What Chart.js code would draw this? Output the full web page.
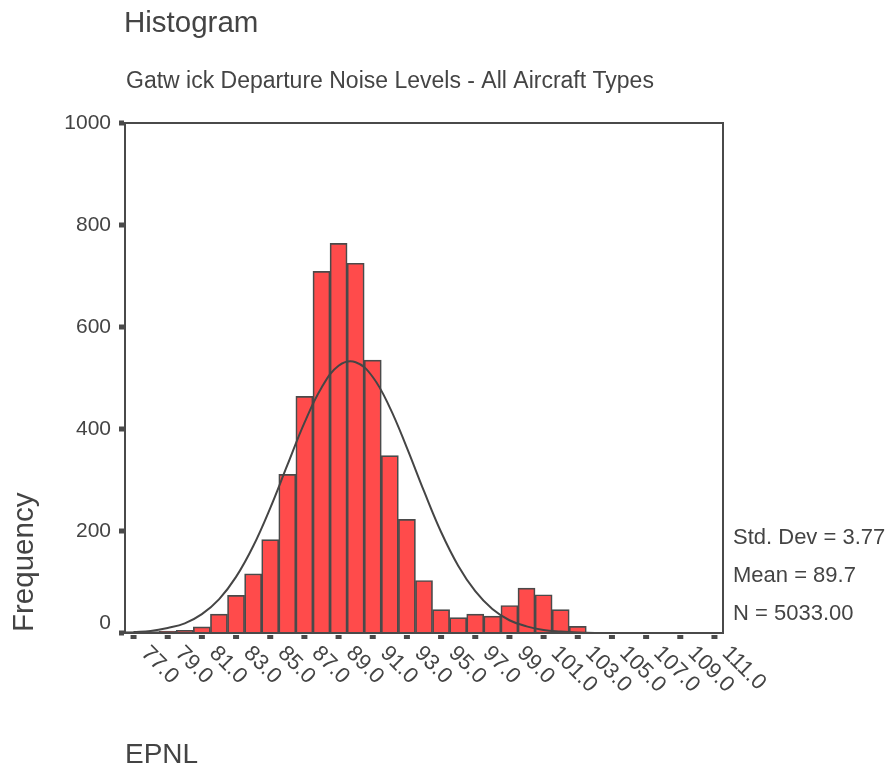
<!DOCTYPE html>
<html>
<head>
<meta charset="utf-8">
<script src="https://cdn.jsdelivr.net/npm/chart.js@4.4.0/dist/chart.umd.min.js"></script>
<style>
  html, body { margin: 0; padding: 0; background: #fff; }
  #wrap { width: 892px; height: 770px; }
</style>
</head>
<body>
<div id="wrap"><canvas id="histograma"></canvas></div>
<script>
// bins of 1 dB, centred on whole values
const binCenters = [77, 78, 79, 80, 81, 82, 83, 84, 85, 86, 87, 88, 89, 90, 91, 92, 93, 94, 95, 96, 97, 98, 99, 100, 101, 102, 103];
const frequencies = [3, 3, 4, 5, 12, 37, 74, 116, 183, 311, 464, 709, 764, 725, 535, 348, 223, 103, 46, 30, 37, 33, 54, 88, 75, 46, 13];

// normal curve
const curveX = [77, 78, 79, 80, 81, 82, 83, 84, 85, 86, 87, 88, 89, 90, 91, 92, 93, 94, 95, 96, 97, 98, 99, 100, 101, 102, 103, 104, 105, 106, 107, 108, 109, 110, 111];
const curveY = [2, 4, 10, 19, 37, 66, 110, 170, 245, 329, 412, 481, 524, 531, 502, 442, 363, 278, 198, 132, 82, 47, 25, 13, 6, 3, 1, 0, 0, 0, 0, 0, 0, 0, 0];

const xTickValues = [77, 79, 81, 83, 85, 87, 89, 91, 93, 95, 97, 99, 101, 103, 105, 107, 109, 111];
const xTickLabels = ["77.0", "79.0", "81.0", "83.0", "85.0", "87.0", "89.0", "91.0", "93.0", "95.0", "97.0", "99.0", "101.0", "103.0", "105.0", "107.0", "109.0", "111.0"];
const yTickValues = [0, 200, 400, 600, 800, 1000];
const yTickLabels = ["0", "200", "400", "600", "800", "1000"];

const statLines = ["Std. Dev = 3.77", "Mean = 89.7", "N = 5033.00"];
const titulo = "Histogram";
const subtitulo = "Gatw ick Departure Noise Levels - All Aircraft Types";
const ejeX = "EPNL";
const ejeY = "Frequency";

const gris = "#4a4a4a";
const texto = "#444444";
const fuente = '"Liberation Sans", Arial, sans-serif';

const decorado = {
  id: "decorado",
  afterDatasetsDraw(chart) {
    const { ctx, chartArea: a, scales: { x, y } } = chart;
    ctx.save();
    // marco
    ctx.strokeStyle = gris;
    ctx.lineWidth = 2;
    ctx.strokeRect(a.left, a.top, a.right - a.left, a.bottom - a.top);

    // eje y: cuadritos y etiquetas (el 0 va un poco mas arriba, como en SPSS)
    ctx.font = "21px " + fuente;
    yTickValues.forEach((v, i) => {
      const py = y.getPixelForValue(v);
      ctx.fillStyle = gris;
      ctx.fillRect(a.left - 6, py - 2.5, 5, 5);
      ctx.fillStyle = texto;
      ctx.textAlign = "right";
      ctx.textBaseline = "middle";
      ctx.fillText(yTickLabels[i], a.left - 14, v === 0 ? py - 10 : py);
    });

    ctx.font = "22px " + fuente;
    xTickValues.forEach((v, i) => {
      const px = x.getPixelForValue(v);
      ctx.fillStyle = gris;
      ctx.fillRect(px - 3, a.bottom + 2, 6, 4);
      ctx.save();
      ctx.translate(px + 11, a.bottom + 17);
      ctx.rotate(Math.PI / 4);
      ctx.fillStyle = texto;
      ctx.textAlign = "left";
      ctx.textBaseline = "middle";
      ctx.fillText(xTickLabels[i], 0, 0);
      ctx.restore();
    });
    ctx.restore();
  },
  afterDraw(chart) {
    const ctx = chart.ctx;
    ctx.save();
    ctx.fillStyle = texto;
    ctx.textAlign = "left";
    ctx.textBaseline = "alphabetic";

    ctx.font = "29.5px " + fuente;
    ctx.fillText(titulo, 124, 32);
    ctx.font = "28px " + fuente;
    ctx.fillText(ejeX, 125, 763);

    ctx.font = "23px " + fuente;
    ctx.fillText(subtitulo, 126, 88);

    ctx.font = "22px " + fuente;
    ctx.fillText(statLines[0], 733, 544);
    ctx.fillText(statLines[1], 733, 582);
    ctx.fillText(statLines[2], 733, 620);

    ctx.save();
    ctx.translate(33, 632);
    ctx.rotate(-Math.PI / 2);
    ctx.font = "29.5px " + fuente;
    ctx.fillText(ejeY, 0, 0);
    ctx.restore();
    ctx.restore();
  }
};

new Chart(document.getElementById("histograma").getContext("2d"), {
  type: "bar",
  data: {
    datasets: [
      {
        type: "line",
        label: "Normal",
        data: curveX.map((v, i) => ({ x: v, y: curveY[i] })),
        borderColor: "#454545",
        borderWidth: 2,
        pointRadius: 0,
        tension: 0.4,
        fill: false,
        order: 0,
      },
      {
        label: "EPNL",
        data: binCenters.map((v, i) => ({ x: v, y: frequencies[i] })),
        backgroundColor: "#ff4b4b",
        borderColor: gris,
        borderWidth: 1.7,
        barPercentage: 1,
        categoryPercentage: 1,
        order: 1,
      },
    ],
  },
  options: {
    responsive: true,
    maintainAspectRatio: false,
    animation: false,
    layout: { padding: { top: 123, right: 169, left: 0, bottom: 0 } },
    plugins: { legend: { display: false }, tooltip: { enabled: false } },
    scales: {
      x: {
        type: "linear",
        offset: false,
        min: 76.5,
        max: 111.5,
        grid: { display: false, drawTicks: false },
        border: { display: false },
        ticks: { display: false },
        afterFit: (scale) => { scale.height = 137; },
      },
      y: {
        min: 0,
        max: 1000,
        grid: { display: false, drawTicks: false },
        border: { display: false },
        ticks: { display: false, stepSize: 200 },
        afterFit: (scale) => { scale.width = 125; },
      },
    },
  },
  plugins: [decorado],
});
</script>
</body>
</html>
